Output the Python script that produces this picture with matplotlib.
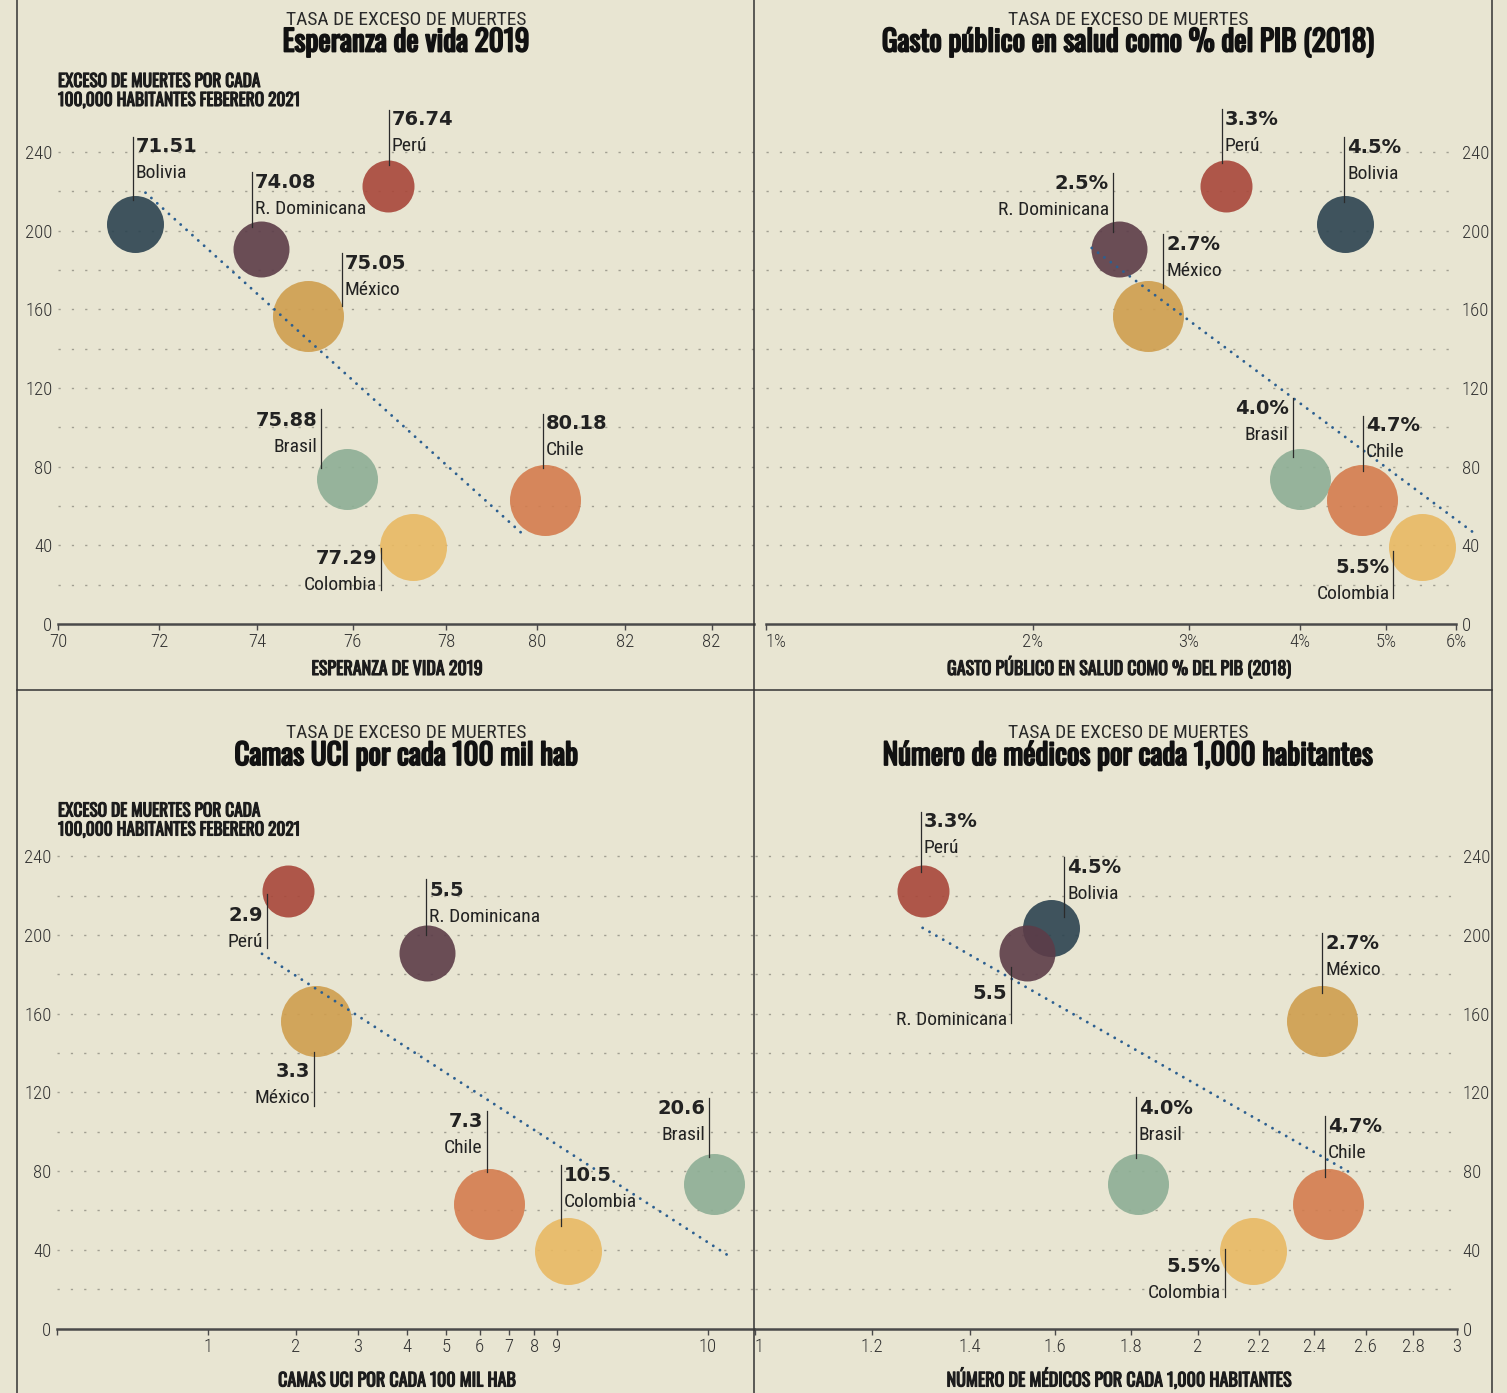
import matplotlib
matplotlib.use("Agg")
import matplotlib.pyplot as plt
import matplotlib.patheffects as pe
from matplotlib.lines import Line2D
import numpy as np

# ---------------------------------------------------------------- data
countries = ["Bolivia", "R. Dominicana", "Perú", "México", "Brasil", "Colombia", "Chile"]
excess_deaths = [203.4, 190.7, 222.7, 156.6, 73.7, 39.2, 63.2]   # per 100k, Feb 2021

life_expectancy = [71.51, 74.08, 76.74, 75.05, 75.88, 77.29, 80.18]
health_spending = [4.5, 2.5, 3.3, 2.7, 4.0, 5.5, 4.7]              # % of GDP
icu_beds = [None, 5.5, 2.9, 3.3, 20.6, 10.5, 7.3]                  # per 100k
doctors = [1.59, 1.53, 1.30, 2.43, 1.82, 2.18, 2.45]               # per 1,000
doctor_labels = ["4.5%", "5.5", "3.3%", "2.7%", "4.0%", "5.5%", "4.7%"]

trend_life_x, trend_life_y = [71.73, 79.67], [219.3, 46.1]
trend_spend_x, trend_spend_y = [2.33, 6.33], [191.2, 45.3]
trend_icu_x, trend_icu_y = [2.57, 21.9], [190.5, 37.4]
trend_doc_x, trend_doc_y = [1.30, 2.54], [203.7, 79.1]

life_ticks = [70, 72, 74, 76, 78, 80, 82, 84]
life_ticklabels = ["70", "72", "74", "76", "78", "80", "82", "82"]
spend_ticks = [1, 2, 3, 4, 5, 6]
spend_ticklabels = ["1%", "2%", "3%", "4%", "5%", "6%"]
icu_ticks = [1, 2, 3, 4, 5, 6, 7, 8, 9, 10, 20]
icu_ticklabels = ["", "1", "2", "3", "4", "5", "6", "7", "8", "9", "10"]
doc_ticks = [1, 1.2, 1.4, 1.6, 1.8, 2, 2.2, 2.4, 2.6, 2.8, 3]
doc_ticklabels = ["1", "1.2", "1.4", "1.6", "1.8", "2", "2.2", "2.4", "2.6", "2.8", "3"]
y_ticks = [0, 40, 80, 120, 160, 200, 240]

# ---------------------------------------------------------------- style
W, H, DPI = 1507, 1393, 100
BG = "#e8e5d2"
INK = "#1c1c1c"
COND = ["Roboto Condensed", "Liberation Sans Narrow", "DejaVu Sans"]
COMP = ["Oswald", "Roboto Condensed", "Liberation Sans Narrow", "DejaVu Sans"]
VALF = ["DejaVu Sans"]


def heavy(width, color=INK):
    return [pe.withStroke(linewidth=width, foreground=color)]


bubble_colors = {
    "Bolivia": "#2c4350", "R. Dominicana": "#5c3c48", "Perú": "#a8473a",
    "México": "#cf9e4e", "Brasil": "#8dae95", "Colombia": "#e9b963",
    "Chile": "#d47c4e",
}
bubble_diam_px = {
    "Bolivia": 57, "R. Dominicana": 56, "Perú": 52, "México": 71,
    "Brasil": 61, "Colombia": 67, "Chile": 71,
}

# leader layout: (line dx, line top, line bottom, text side, value-text centre), pixels from bubble centre
layout_life = {
    "Bolivia": (-2, 87, 24, "R", 79), "R. Dominicana": (-9, 77, 22, "R", 68),
    "Perú": (1, 76, 21, "R", 68), "México": (34, 63, 10, "R", 54),
    "Brasil": (-26, 70, 11, "L", 60), "Colombia": (-32, -1, -43, "L", -10),
    "Chile": (-2, 86, 32, "R", 78),
}
layout_spend = {
    "Perú": (-4, 77, 23, "R", 68), "Bolivia": (-1, 87, 22, "R", 78),
    "R. Dominicana": (-6, 76, 17, "L", 67), "México": (15, 82, 28, "R", 73),
    "Brasil": (-7, 81, 22, "L", 72), "Chile": (1, 84, 29, "R", 76),
    "Colombia": (-29, -4, -51, "L", -19),
}
layout_icu = {
    "Perú": (-21, -3, -57, "L", -23), "R. Dominicana": (-1, 74, 18, "R", 64),
    "México": (-2, -31, -85, "L", -49), "Chile": (-2, 93, 32, "L", 84),
    "Colombia": (-7, 86, 25, "R", 77), "Brasil": (-5, 86, 27, "L", 77),
}
layout_doc = {
    "Perú": (-2, 79, 19, "R", 71), "Bolivia": (13, 71, 11, "R", 62),
    "R. Dominicana": (-16, -14, -70, "L", -39), "México": (0, 88, 28, "R", 79),
    "Brasil": (-2, 87, 26, "R", 77), "Chile": (-3, 88, 27, "R", 79),
    "Colombia": (-28, 2, -46, "L", -14),
}

PX_PER_UNIT = 1.9667
Y_MAX = 266

fig = plt.figure(figsize=(W / DPI, H / DPI), dpi=DPI, facecolor=BG)


def ftext(x, y, s, **kw):
    """Text placed by pixel position measured from the top-left corner."""
    kw.setdefault("va", "baseline")
    fig.text(x / W, 1 - y / H, s, **kw)


def add_panel(x0, x1, y0, xlim, ticks, ticklabels, yside):
    top = y0 - Y_MAX * PX_PER_UNIT
    ax = fig.add_axes([x0 / W, 1 - y0 / H, (x1 - x0) / W, (y0 - top) / H])
    ax.set_facecolor("none")
    ax.set_xscale("log")
    ax.set_xlim(*xlim)
    ax.set_ylim(0, Y_MAX)
    ax.set_xticks(ticks, ticklabels)
    ax.minorticks_off()
    ax.set_yticks(y_ticks, [str(v) for v in y_ticks])
    for sp in ("top", "left", "right"):
        ax.spines[sp].set_visible(False)
    ax.spines["bottom"].set_color("#4a4a4a")
    ax.spines["bottom"].set_linewidth(1.8)
    ax.tick_params(axis="x", length=4.5, width=1.0, color="#4a4a4a", pad=2,
                   labelsize=13.5, labelcolor="#333333")
    ax.tick_params(axis="y", length=0, pad=4, labelsize=13.5, labelcolor="#333333")
    if yside == "right":
        ax.yaxis.tick_right()
    for lab in ax.get_xticklabels() + ax.get_yticklabels():
        lab.set_fontfamily(COND)
        lab.set_fontweight("light")
    for v in range(20, 241, 20):
        ax.axhline(v, color="#a19f92", lw=1.0, linestyle=(0, (1.6, 8.0)), zorder=1)
    return ax


def to_data(ax, x, y, dx, dy):
    d = ax.transData.transform((x, y)) + np.array([dx, dy])
    return ax.transData.inverted().transform(d)


def draw_points(ax, xs, labels, layout, trend_x, trend_y):
    for name, xv in zip(countries, xs):
        if xv is None:
            continue
        yv = excess_deaths[countries.index(name)]
        d = bubble_diam_px[name] * 0.72
        ax.scatter([xv], [yv], s=d ** 2, color=bubble_colors[name], alpha=0.9,
                   linewidths=0, zorder=3, clip_on=False)
    ax.plot(trend_x, trend_y, color="#2c5f90", lw=2.1,
            linestyle=(0, (0.01, 2.7)), dash_capstyle="round", zorder=4, clip_on=False)
    for name, xv, lab in zip(countries, xs, labels):
        if xv is None:
            continue
        yv = excess_deaths[countries.index(name)]
        dx, top, bot, side, val = layout[name]
        p_top = to_data(ax, xv, yv, dx, top)
        p_bot = to_data(ax, xv, yv, dx, bot)
        ax.add_line(Line2D([p_top[0], p_bot[0]], [p_top[1], p_bot[1]],
                           color="#2b2b2b", lw=0.9, zorder=5, clip_on=False))
        tx = dx + 3 if side == "R" else dx - 4
        ha = "left" if side == "R" else "right"
        pv = to_data(ax, xv, yv, tx, val - 7)
        pn = to_data(ax, xv, yv, tx, val - 33)
        ax.text(pv[0], pv[1], lab, ha=ha, va="baseline", fontsize=14,
                fontweight="bold", family=VALF, color="#222222", zorder=6, clip_on=False)
        ax.text(pn[0], pn[1], name, ha=ha, va="baseline", fontsize=14,
                family=COND, color="#222222", zorder=6, clip_on=False)


# ---------------------------------------------------------------- panels
ax1 = add_panel(58, 754, 624, (70, 85), life_ticks, life_ticklabels, "left")
draw_points(ax1, life_expectancy, [f"{v:.2f}" for v in life_expectancy],
            layout_life, trend_life_x, trend_life_y)

ax2 = add_panel(766, 1456, 624, (1, 6), spend_ticks, spend_ticklabels, "right")
draw_points(ax2, health_spending, [f"{v:.1f}%" for v in health_spending],
            layout_spend, trend_spend_x, trend_spend_y)
ax2.get_xticklabels()[0].set_horizontalalignment("left")

ax3 = add_panel(57, 754, 1328.5, (1, 24.76), icu_ticks, icu_ticklabels, "left")
draw_points(ax3, icu_beds, [("" if v is None else f"{v:g}") for v in icu_beds],
            layout_icu, trend_icu_x, trend_icu_y)

ax4 = add_panel(755, 1457, 1328.5, (1, 3), doc_ticks, doc_ticklabels, "right")
draw_points(ax4, doctors, doctor_labels, layout_doc, trend_doc_x, trend_doc_y)
ax4.get_xticklabels()[0].set_horizontalalignment("left")

# ---------------------------------------------------------------- headings
heads = [
    (406, 25, 51.5, "Esperanza de vida 2019"),
    (1128, 25, 51.5, "Gasto público en salud como % del PIB (2018)"),
    (406, 738, 765, "Camas UCI por cada 100 mil hab"),
    (1128, 738, 765, "Número de médicos por cada 1,000 habitantes"),
]
for cx, y_sub, y_title, title in heads:
    ftext(cx, y_sub, "TASA DE EXCESO DE MUERTES", ha="center", fontsize=14,
          family=COND, color="#2a2a2a")
    ftext(cx, y_title, title, ha="center", fontsize=21, fontweight="bold",
          family=COMP, color="#111111", path_effects=heavy(1.3, "#111111"))

for y1 in (87, 816.5):
    for k, line in enumerate(["EXCESO DE MUERTES POR CADA",
                              "100,000 HABITANTES FEBERERO 2021"]):
        ftext(58, y1 + 19 * k, line, ha="left", fontsize=12.5, fontweight="bold",
              family=COMP, color=INK, path_effects=heavy(0.8))

xlabels = [
    (397, 675, "ESPERANZA DE VIDA 2019"),
    (1119, 675, "GASTO PÚBLICO EN SALUD COMO % DEL PIB (2018)"),
    (397, 1386.5, "CAMAS UCI POR CADA 100 MIL HAB"),
    (1119, 1386.5, "NÚMERO DE MÉDICOS POR CADA 1,000 HABITANTES"),
]
for cx, yb, s in xlabels:
    ftext(cx, yb, s, ha="center", fontsize=13, fontweight="bold", family=COMP,
          color=INK, path_effects=heavy(0.8))

# ---------------------------------------------------------------- frame
frame = dict(color="#333333", lw=1.1, transform=fig.transFigure, zorder=10)
for xp in (17, 754, 1492):
    fig.add_artist(Line2D([xp / W, xp / W], [0, 1], **frame))
fig.add_artist(Line2D([17 / W, 1492 / W], [1 - 690 / H, 1 - 690 / H], **frame))

fig.savefig("out.png", dpi=DPI, facecolor=BG)
